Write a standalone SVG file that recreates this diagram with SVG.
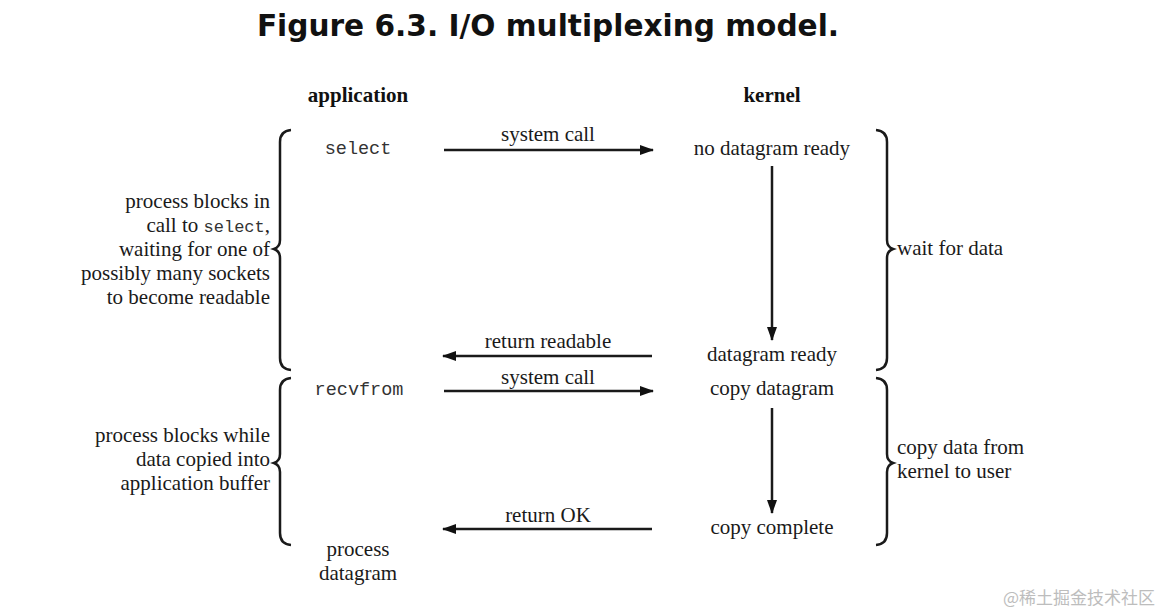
<svg xmlns="http://www.w3.org/2000/svg" width="1168" height="615" viewBox="0 0 1168 615">
<defs>
<marker id="ah" viewBox="0 0 14 10" refX="13" refY="5" markerWidth="14" markerHeight="10" markerUnits="userSpaceOnUse" orient="auto">
<path d="M0,0 L14,5 L0,10 Z" fill="#111"/>
</marker>
</defs>
<style>
.t{font-family:"Liberation Serif","Times New Roman",serif;font-size:21px;fill:#1a1a1a}
.h{font-family:"Liberation Serif","Times New Roman",serif;font-size:21px;font-weight:bold;fill:#111}
.m{font-family:"Liberation Mono","Courier New",monospace;font-size:18.5px;fill:#333}
.ttl{font-family:"DejaVu Sans",Verdana,sans-serif;font-size:29.6px;font-weight:bold;fill:#111}
.c{stroke:#1a1a1a;stroke-width:2.5;fill:none}
.b{stroke:#1a1a1a;stroke-width:2.5;fill:none}
.wm{font-family:"Noto Sans CJK SC",sans-serif;font-size:17px;fill:#bdbdbd}
</style>
<rect width="1168" height="615" fill="#fff"/>
<text class="ttl" x="548" y="36" text-anchor="middle">Figure 6.3. I/O multiplexing model.</text>
<text class="h" x="358" y="102" text-anchor="middle">application</text>
<text class="h" x="772" y="102" text-anchor="middle">kernel</text>

<g id="n-select"><text class="m" x="358" y="154" text-anchor="middle">select</text></g>
<g id="n-nodgram"><text class="t" x="772" y="155" text-anchor="middle">no datagram ready</text></g>
<g id="n-dgready"><text class="t" x="772" y="361" text-anchor="middle">datagram ready</text></g>
<g id="n-recvfrom"><text class="m" x="359" y="395" text-anchor="middle">recvfrom</text></g>
<g id="n-copydg"><text class="t" x="772" y="395" text-anchor="middle">copy datagram</text></g>
<g id="n-copycomplete"><text class="t" x="772" y="534" text-anchor="middle">copy complete</text></g>
<g id="n-process"><text class="t" x="358" y="556" text-anchor="middle">process</text><text class="t" x="358" y="580" text-anchor="middle">datagram</text></g>

<g id="brace-left-1">
<path class="b" d="M291,130 Q280,131 280,142 L280,240 Q280,247 274,249 Q280,251 280,258 L280,358 Q280,369 291,370"/>
<text class="t" text-anchor="end"><tspan x="270" y="208">process blocks in</tspan><tspan x="270" y="232">call to <tspan class="m" style="font-size:17px">select</tspan>,</tspan><tspan x="270" y="256">waiting for one of</tspan><tspan x="270" y="280">possibly many sockets</tspan><tspan x="270" y="304">to become readable</tspan></text>
</g>
<g id="brace-left-2">
<path class="b" d="M291,378 Q280,379 280,390 L280,454 Q280,461 274,463 Q280,465 280,472 L280,533 Q280,544 291,545"/>
<text class="t" text-anchor="end"><tspan x="270" y="442">process blocks while</tspan><tspan x="270" y="466">data copied into</tspan><tspan x="270" y="490">application buffer</tspan></text>
</g>
<g id="brace-right-1">
<path class="b" d="M876,130 Q887,131 887,142 L887,240 Q887,247 893,249 Q887,251 887,258 L887,358 Q887,369 876,370"/>
<text class="t" x="897" y="255">wait for data</text>
</g>
<g id="brace-right-2">
<path class="b" d="M876,378 Q887,379 887,390 L887,454 Q887,461 893,463 Q887,465 887,472 L887,533 Q887,544 876,545"/>
<text class="t"><tspan x="897" y="454">copy data from</tspan><tspan x="897" y="478">kernel to user</tspan></text>
</g>

<g id="connectors">
<line class="c" x1="444" y1="150" x2="653" y2="150" marker-end="url(#ah)"/>
<text class="t" x="548" y="141" text-anchor="middle">system call</text>
<line class="c" x1="772" y1="166" x2="772" y2="340" marker-end="url(#ah)"/>
<line class="c" x1="652" y1="356" x2="443" y2="356" marker-end="url(#ah)"/>
<text class="t" x="548" y="348" text-anchor="middle">return readable</text>
<line class="c" x1="444" y1="391" x2="653" y2="391" marker-end="url(#ah)"/>
<text class="t" x="548" y="384" text-anchor="middle">system call</text>
<line class="c" x1="772" y1="408" x2="772" y2="513" marker-end="url(#ah)"/>
<line class="c" x1="652" y1="529" x2="443" y2="529" marker-end="url(#ah)"/>
<text class="t" x="548" y="522" text-anchor="middle">return OK</text>
</g>
<text class="wm" x="1003" y="604">@稀土掘金技术社区</text>
</svg>
